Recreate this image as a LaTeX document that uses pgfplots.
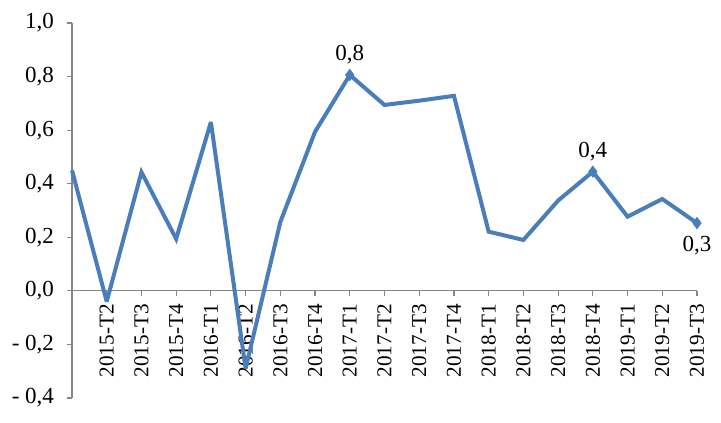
\documentclass[border=0pt]{standalone}
\usepackage{pgfplots}
\pgfplotsset{compat=1.18}
\usepackage{fontspec}
\setmainfont{Liberation Serif}
\definecolor{ln}{HTML}{4A7EBB}
\definecolor{ax}{HTML}{868686}
\begin{document}
\begin{tikzpicture}
\begin{axis}[
 at={(0,0)}, anchor=south west,
 scale only axis, width=312.5pt, height=187.5pt,
 xmin=0, xmax=18, ymin=-0.4, ymax=1.0,
 axis x line*=middle, axis y line*=left,
 axis line style={ax, line width=0.6pt},
 xtick={1,...,18},
 xticklabels={2015-T2,2015-T3,2015-T4,2016-T1,2016-T2,2016-T3,2016-T4,2017-T1,2017-T2,2017-T3,2017-T4,2018-T1,2018-T2,2018-T3,2018-T4,2019-T1,2019-T2,2019-T3},
 x tick label style={rotate=90, anchor=east, font=\fontsize{10.6}{12}\selectfont, inner sep=4pt},
 ytick={-0.4,-0.2,0,0.2,0.4,0.6,0.8,1.0},
 yticklabels={{- 0,4},{- 0,2},{0,0},{0,2},{0,4},{0,6},{0,8},{1,0}},
 y tick label style={font=\fontsize{11.5}{13}\selectfont, xshift=-3pt},
 tick style={ax, line width=0.6pt},
 tick align=outside, major tick length=2.5pt,
 clip=false,
]
\addplot[ln, line width=2pt, mark=none, line join=miter, miter limit=3] coordinates {
(0,0.45) (1,-0.04) (2,0.443) (3,0.194) (4,0.63) (5,-0.29) (6,0.257) (7,0.594) (8,0.806) (9,0.694) (10,0.71) (11,0.728) (12,0.221) (13,0.19) (14,0.337) (15,0.445) (16,0.277) (17,0.343) (18,0.253)};
\addplot[ln, only marks, mark=diamond*, mark size=2.8pt, nodes near coords, point meta=explicit symbolic,
 nodes near coords style={black, anchor=south, font=\fontsize{11.5}{13}\selectfont, yshift=2pt}] coordinates {(8,0.806)[0,8] (15,0.445)[0,4]};
\addplot[ln, only marks, mark=diamond*, mark size=2.8pt, nodes near coords, point meta=explicit symbolic,
 nodes near coords style={black, anchor=north, font=\fontsize{11.5}{13}\selectfont, yshift=-3pt}] coordinates {(18,0.253)[0,3]};
\end{axis}
\pgfresetboundingbox
\path (-36pt,-12pt) rectangle (324.5pt,199pt);
\end{tikzpicture}
\end{document}
